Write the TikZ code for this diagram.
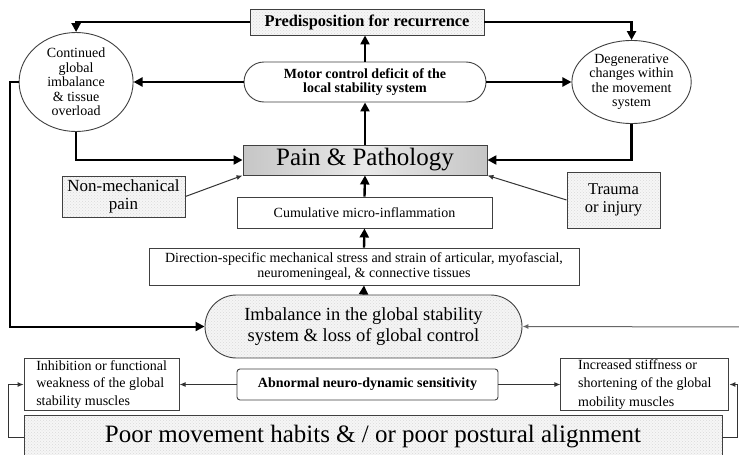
\documentclass[tikz,border=0pt]{standalone}
\usepackage{fontspec}
\setmainfont{Liberation Serif}
\usetikzlibrary{positioning,arrows.meta,shapes.geometric,shapes.misc,patterns}

\newcommand{\fsz}[2]{\fontsize{#1}{#2}\selectfont}

\begin{document}
\begin{tikzpicture}[
x=1pt, y=-1pt,
node distance=20pt,
box/.style={draw=black!75, line width=0.9pt, align=center, inner sep=1pt},
plain/.style={box, fill=white},
stipple/.style={box, preaction={fill=gray!7}, pattern=crosshatch dots, pattern color=gray!30},
oval/.style={ellipse, draw=black!75, line width=0.9pt, fill=white, align=center, inner sep=0pt},
pill/.style={rounded rectangle, draw=black!75, line width=0.9pt, align=center, inner sep=1pt},
flow/.style={-{Triangle[length=9pt, width=9pt]}, line width=2.4pt, black},
feed/.style={-{Latex[length=6pt, width=5pt]}, line width=1pt, black!80}
]
\clip (0,0) rectangle (739,455);
\fill[white] (0,0) rectangle (739,455);

% central column
\node[stipple, minimum width=234pt, minimum height=26pt, font=\fsz{16.4}{17}\bfseries] (pred) at (367,22) {Predisposition for recurrence};
\node[pill, fill=white, minimum width=244pt, minimum height=40pt, font=\fsz{14}{13.5}\bfseries] (motor) at (365,82) {Motor control deficit of the\\local stability system};
\node[box, minimum width=244pt, minimum height=30pt, font=\fsz{25}{26}, left color=gray!45, right color=gray!45, middle color=gray!18] (pain) at (365,160) {Pain \& Pathology};
\node[plain, minimum width=255pt, minimum height=31pt, font=\fsz{14}{15}] (cumul) at (364.5,212.5) {Cumulative micro-inflammation};
\node[plain, minimum width=430pt, minimum height=37pt, font=\fsz{14}{15}] (dirstress) at (364,266.5) {Direction-specific mechanical stress and strain of articular, myofascial,\\neuromeningeal, \& connective tissues};
\node[pill, preaction={fill=gray!8}, pattern=crosshatch dots, pattern color=gray!30, minimum width=319pt, minimum height=63pt, font=\fsz{18.5}{21}] (imbal) at (363.5,326.5) {Imbalance in the global stability\\system \& loss of global control};
\node[plain, rounded corners=3pt, minimum width=261pt, minimum height=31pt, font=\fsz{14}{15}\bfseries] (neuro) at (367.5,384.5) {Abnormal neuro-dynamic sensitivity};
\node[stipple, minimum width=698pt, minimum height=44pt, font=\fsz{25}{26}] (poor) at (373,437) {Poor movement habits \& / or poor postural alignment};

% side nodes
\node[oval, minimum width=114pt, minimum height=99pt, font=\fsz{14}{14.5}, left=110pt of motor] (overload) {Continued\\global\\imbalance\\\& tissue\\overload};
\node[oval, minimum width=113pt, minimum height=83pt, font=\fsz{14}{14.5}, right=85pt of motor] (degen) {Degenerative\\changes within\\the movement\\system};
\node[stipple, minimum width=123pt, minimum height=41pt, font=\fsz{17}{17.5}] (nonmech) at (123.5,196.5) {Non-mechanical\\pain};
\node[stipple, minimum width=93pt, minimum height=56pt, font=\fsz{16.5}{17.5}] (trauma) at (613.5,200) {Trauma\\or injury};
\node[plain, align=left, minimum width=155pt, minimum height=52pt, font=\fsz{14}{17.5}, left=57pt of neuro] (inhib) {Inhibition or functional\\weakness of the global\\stability muscles};
\node[plain, align=left, minimum width=168pt, minimum height=52pt, font=\fsz{14}{18.5}, right=62pt of neuro] (stiff) {Increased stiffness or\\shortening of the global\\mobility muscles};

\coordinate (lfar) at (10,82);
\coordinate (rfar) at (745,327);
\coordinate (lbot) at (8,437);
\coordinate (rbot) at (737,437);

% connectors
\draw[flow] (pred.west) -| (overload.north);
\draw[flow] (pred.east) -| (degen.north);
\draw[flow] (motor.north) -- (motor.north |- pred.south);
\draw[flow] (motor.west) -- (overload.east);
\draw[flow] (motor.east) -- (degen.west);
\draw[flow] (pain.north) -- (motor.south);
\draw[flow] (overload.south) |- (pain.west);
\draw[flow] (degen.south) |- (pain.east);
\draw[feed] (nonmech.east) -- (pain.south west);
\draw[feed] (trauma.west) -- (pain.south east);
\draw[flow] (cumul.north) -- (pain.south);
\draw[flow] (dirstress.north) -- (cumul.south);
\draw[flow] (imbal.north) -- (dirstress.south);
\draw[flow, line width=2pt] (overload.west) -- (lfar) |- (imbal.west);
\draw[feed, black!60] (rfar) -- (imbal.east);
\draw[feed] (neuro.west) -- (inhib.east);
\draw[feed] (neuro.east) -- (stiff.west);
\draw[feed] (poor.west) -- (lbot) |- (inhib.west);
\draw[feed] (poor.east) -- (rbot) |- (stiff.east);
\end{tikzpicture}
\end{document}
